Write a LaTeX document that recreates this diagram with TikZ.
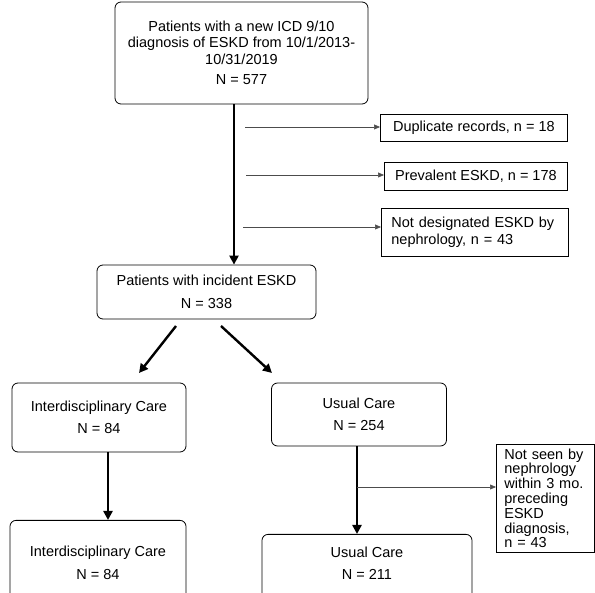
\documentclass[tikz,border=0pt]{standalone}
\usepackage{fontspec}
\setmainfont{Liberation Sans}
\usetikzlibrary{arrows.meta}

\begin{document}
\begin{tikzpicture}[x=1pt, y=-1pt,
    every node/.style={font=\fontsize{14.5}{16.5}\selectfont}, % one text size for the whole chart
    mainbox/.style={draw, rounded corners=6pt, line width=0.8pt, align=center, inner sep=0pt}, % rounded boxes of the main flow
    sidebox/.style={draw, line width=0.8pt, align=left, anchor=north west, inner xsep=10pt, inner ysep=4pt}, % square exclusion boxes
    bigarrow/.style={-{Triangle[length=9pt, width=9pt]}, line width=2.4pt}, % thick flow arrows
    thinarrow/.style={-{Triangle[length=6pt, width=5pt]}, line width=0.5pt, draw=black!70} % thin exclusion arrows
]
\useasboundingbox (0,0) rectangle (595,593);
\clip (0,0) rectangle (595,593);

% main flow
\node[mainbox, minimum width=253pt, minimum height=102pt] (all) at (241.5,53)
    {Patients with a new ICD 9/10\\ diagnosis of ESKD from 10/1/2013-\\ 10/31/2019\\[4pt] N = 577};
\node[mainbox, minimum width=219pt, minimum height=54pt] (incident) at (206.5,292)
    {Patients with incident ESKD\\[6pt] N = 338};
\node[mainbox, minimum width=174pt, minimum height=69pt] (idc) at (99,417.5)
    {Interdisciplinary Care\\[6pt] N = 84};
\node[mainbox, minimum width=175pt, minimum height=63pt] (uc) at (359,414.5)
    {Usual Care\\[6pt] N = 254};
\node[mainbox, minimum width=176pt, minimum height=90pt, anchor=north] (idcfinal) at (98,520) {};
\node[align=center] (idctext) at (98,563) {Interdisciplinary Care\\[6pt] N = 84};
\node[mainbox, minimum width=210pt, minimum height=90pt, anchor=north] (ucfinal) at (367,534) {};
\node[align=center] (uctext) at (367,563) {Usual Care\\[6pt] N = 211};

% exclusions
\node[sidebox, minimum width=187pt, minimum height=27pt] (dup) at (380,114) {Duplicate records, n = 18};
\node[sidebox, minimum width=183pt, minimum height=28pt] (prev) at (384,162) {Prevalent ESKD, n = 178};
\node[sidebox, minimum width=187pt, minimum height=48pt, text width=167pt] (notdes) at (381,208)
    {Not designated ESKD by\\ nephrology, n = 43};
\node[sidebox, minimum width=98pt, minimum height=108pt, text width=82pt, inner xsep=8pt, inner ysep=2pt,
      font=\fontsize{14.5}{14.8}\selectfont] (notseen) at (496,444)
    {Not seen by\\ nephrology\\ within 3 mo.\\ preceding\\ ESKD\\ diagnosis,\\ n = 43};

% connectors
\draw[bigarrow] (all.south -| 234,0) -- (incident.north -| 234,0);
\draw[bigarrow] (176,326) -- (139,373);
\draw[bigarrow] (221,326) -- (272,373);
\draw[bigarrow] (idc.south -| 108,0) -- (idcfinal.north -| 108,0);
\draw[bigarrow] (uc.south -| 357,0) -- (ucfinal.north -| 357,0);

\draw[thinarrow] (245,127) -- (dup.west |- 0,127);
\draw[thinarrow] (246,175) -- (prev.west |- 0,175);
\draw[thinarrow] (243,227) -- (notdes.west |- 0,227);
\draw[thinarrow] (357,487) -- (notseen.west |- 0,487);
\end{tikzpicture}
\end{document}
